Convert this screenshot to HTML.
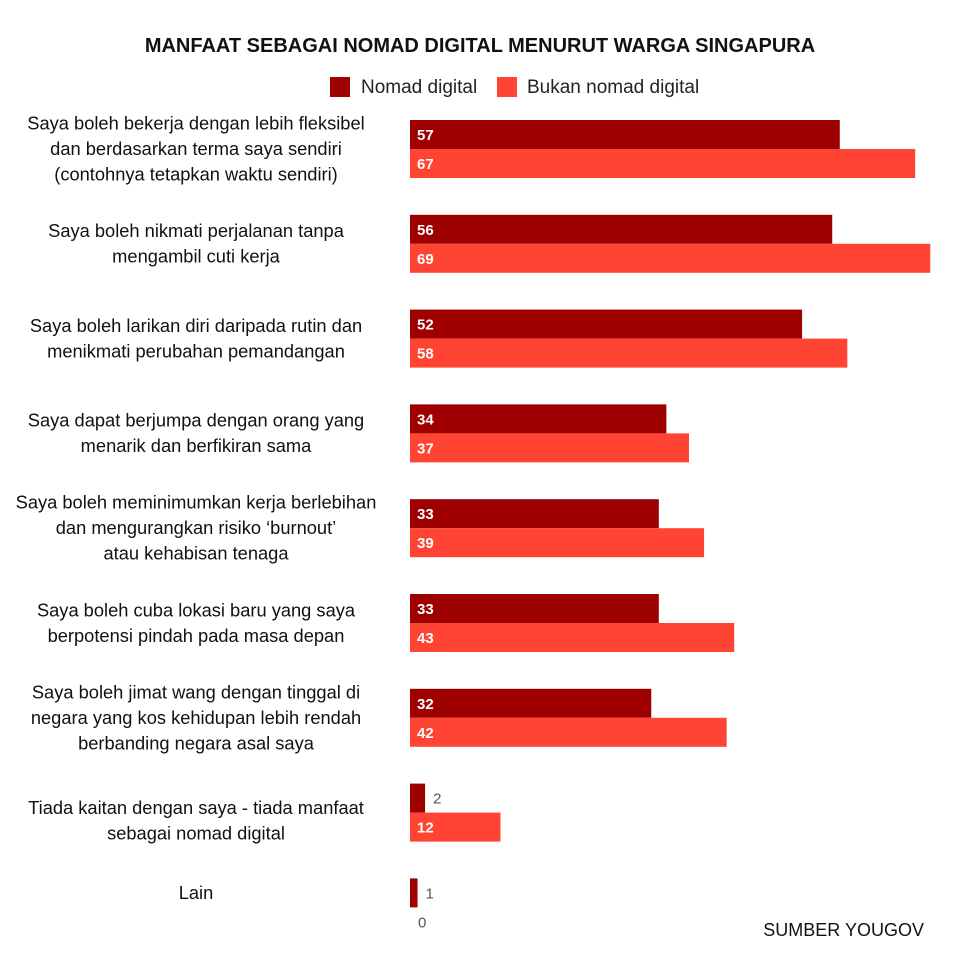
<!DOCTYPE html>
<html><head><meta charset="utf-8"><style>
body{margin:0;background:#fff;}
svg{display:block;font-family:"Liberation Sans",sans-serif;}
</style></head><body>
<svg id="chart" width="960" height="960">
<text x="480" y="52" text-anchor="middle" font-size="20" font-weight="bold" fill="#111">MANFAAT SEBAGAI NOMAD DIGITAL MENURUT WARGA SINGAPURA</text>
<g>
<rect x="330" y="77" width="20" height="20" fill="#9e0000"/>
<text x="361" y="93" font-size="19" fill="#222">Nomad digital</text>
<rect x="497" y="77" width="20" height="20" fill="#ff4433"/>
<text x="527" y="93" font-size="19" fill="#222">Bukan nomad digital</text>
</g>
<g id="bars"></g>
<text x="924" y="936" text-anchor="end" font-size="18" fill="#111">SUMBER YOUGOV</text>
</svg>
<script>
const categories = [
 ["Saya boleh bekerja dengan lebih fleksibel","dan berdasarkan terma saya sendiri","(contohnya tetapkan waktu sendiri)"],
 ["Saya boleh nikmati perjalanan tanpa","mengambil cuti kerja"],
 ["Saya boleh larikan diri daripada rutin dan","menikmati perubahan pemandangan"],
 ["Saya dapat berjumpa dengan orang yang","menarik dan berfikiran sama"],
 ["Saya boleh meminimumkan kerja berlebihan","dan mengurangkan risiko \u2018burnout\u2019","atau kehabisan tenaga"],
 ["Saya boleh cuba lokasi baru yang saya","berpotensi pindah pada masa depan"],
 ["Saya boleh jimat wang dengan tinggal di","negara yang kos kehidupan lebih rendah","berbanding negara asal saya"],
 ["Tiada kaitan dengan saya - tiada manfaat","sebagai nomad digital"],
 ["Lain"]
];
const nomadValues = [57,56,52,34,33,33,32,2,1];
const bukanValues = [67,69,58,37,39,43,42,12,0];

const x0 = 410, pxPerUnit = 7.54, barH = 29, groupTop = 120, groupStep = 94.8;
const xScale = v => x0 + v * pxPerUnit;
const yScale = i => groupTop + i * groupStep;
const NS = "http://www.w3.org/2000/svg";
const g = document.getElementById("bars");
function mk(tag, attrs){const e=document.createElementNS(NS,tag);for(const k in attrs)e.setAttribute(k,attrs[k]);return e;}
function bar(v,y,color,i,series){
  const w = xScale(v)-x0;
  const r = mk("rect",{x:x0,y:y,width:Math.max(w,0),height:barH,fill:color});
  
  
  g.appendChild(r);
  const inside = w > 30;
  const t = mk("text",{x: inside ? x0+7 : xScale(v)+8, y:y+barH/2+5.5, "font-size":15,
    "font-weight": inside?"bold":"normal", fill: inside?"#fff":"#555"});
  t.textContent = v;
  
  
  g.appendChild(t);
}
categories.forEach((lines,i)=>{
  const y = yScale(i);
  bar(nomadValues[i], y, "#9e0000", i, "nomad");
  bar(bukanValues[i], y+barH, "#ff4433", i, "bukan");
  const cy = lines.length === 1 ? y + barH/2 : y + barH + (lines.length===2 && nomadValues[i]<5 ? 8 : 0);
  const lh = 25.5;
  const t = mk("text",{"text-anchor":"middle","font-size":18.3,fill:"#111"});
  
  
  lines.forEach((ln,j)=>{
    const s = mk("tspan",{x:196,y: cy - (lines.length-1)*lh/2 + j*lh + 6});
    s.textContent = ln; t.appendChild(s);
  });
  g.appendChild(t);
});
</script>
</body></html>
